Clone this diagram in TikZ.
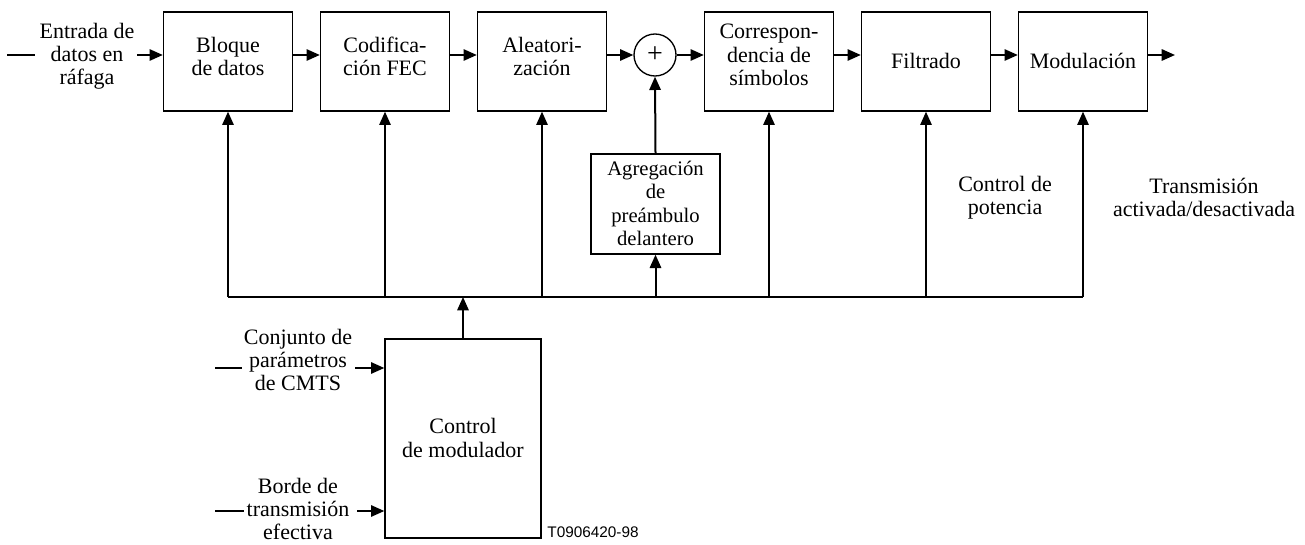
\documentclass[tikz,border=0pt]{standalone}
\usepackage{fontspec}
\setmainfont{Liberation Serif}
\newfontfamily\codefont{Liberation Sans}
\usetikzlibrary{arrows.meta}

\tikzset{
  blk/.style={draw, line width=1pt, inner sep=0pt,
              minimum width=96.75pt, minimum height=74.25pt},
  lbl/.style={align=center, inner sep=0pt, font=\fontsize{16.5}{17.4}\selectfont},
  smalllbl/.style={align=center, inner sep=0pt, font=\fontsize{15.5}{17.4}\selectfont},
  wire/.style={line width=1.5pt},
  arr/.style={line width=1.5pt, -{Triangle[length=10pt,width=8.5pt]}},
}

\begin{document}
\begin{tikzpicture}[x=0.75pt, y=-0.75pt]
\useasboundingbox (0,0) rectangle (1305,545);

% signal path and control bus levels
\coordinate (sig) at (0,55);
\coordinate (bus) at (0,297);

% main chain
\node[blk] (bloque) at (228,61.5) {};
\node[blk] (codif)  at (385,61.5) {};
\node[blk] (aleat)  at (542,61.5) {};
\node[draw, circle, line width=1pt, minimum size=31.5pt, inner sep=0pt] (sum) at (655,55) {};
\node[blk] (corr)   at (769,61.5) {};
\node[blk] (filt)   at (926,61.5) {};
\node[blk] (modul)  at (1083,61.5) {};

\node[lbl] (tbloque) at (228,56.5) {Bloque\\de datos};
\node[lbl] (tcodif)  at (385,56.5) {Codifica-\\ción FEC};
\node[lbl] (taleat)  at (542,56.5) {Aleatori-\\zación};
\node[inner sep=0pt, font=\fontsize{21}{21}\selectfont] (tsum) at (655,55) {+};
\node[lbl] (tcorr)   at (769,55) {Correspon-\\dencia de\\símbolos};
\node[lbl] (tfilt)   at (926,61) {Filtrado};
\node[lbl] (tmodul)  at (1083,61) {Modulación};

% preamble and modulator control blocks
\node[draw, line width=1pt, inner sep=0pt, minimum width=96.75pt, minimum height=75pt] (agreg) at (655.5,204) {};
\node[smalllbl] (tagreg) at (655.5,203.5) {Agregación\\de\\preámbulo\\delantero};
\node[draw, line width=1pt, inner sep=0pt, minimum width=117pt, minimum height=149.25pt] (ctrl) at (463,438.5) {};
\node[lbl] (tctrl) at (463,438) {Control\\de modulador};

% outside labels
\node[lbl] (tin)   at (87,56.5)   {Entrada de\\datos en\\ráfaga};
\node[lbl] (tcmts) at (298,360)   {Conjunto de\\parámetros\\de CMTS};
\node[lbl] (tedge) at (298,509)   {Borde de\\transmisión\\efectiva};
\node[lbl] (tpow)  at (1005,197.5) {Control de\\potencia};
\node[lbl] (ttx)   at (1204,197.5) {Transmisión\\activada/desactivada};
\node[inner sep=0pt, font=\codefont\fontsize{11.5}{12}\selectfont] (tref) at (593,532) {T0906420-98};

% free ends of the external lines
\coordinate (inA) at (7,55);
\coordinate (inB) at (35,55);
\coordinate (inC) at (137,55);
\coordinate (out) at (1175,55);
\coordinate (cA) at (215,368);
\coordinate (cB) at (242,368);
\coordinate (cC) at (355,368);
\coordinate (eA) at (215,511);
\coordinate (eB) at (244,511);
\coordinate (eC) at (357,511);

% data path
\draw[wire] (inA) -- (inB);
\draw[arr] (inC) -- (bloque.west |- sig);
\draw[arr] (bloque.east |- sig) -- (codif.west |- sig);
\draw[arr] (codif.east |- sig) -- (aleat.west |- sig);
\draw[arr] (aleat.east |- sig) -- (sum.west);
\draw[arr] (sum.east) -- (corr.west |- sig);
\draw[arr] (corr.east |- sig) -- (filt.west |- sig);
\draw[arr] (filt.east |- sig) -- (modul.west |- sig);
\draw[arr] (modul.east |- sig) -- (out);

% control bus
\draw[wire] (bloque.south |- bus) -- (modul.south |- bus);
\draw[arr] (bloque.south |- bus) -- (bloque.south);
\draw[arr] (codif.south |- bus) -- (codif.south);
\draw[arr] (aleat.south |- bus) -- (aleat.south);
\draw[arr] (agreg.south |- bus) -- (agreg.south);
\draw[arr] (agreg.north) -- (sum.south);
\draw[arr] (corr.south |- bus) -- (corr.south);
\draw[arr] (filt.south |- bus) -- (filt.south);
\draw[arr] (modul.south |- bus) -- (modul.south);
\draw[arr] (ctrl.north) -- (ctrl.north |- bus);

% modulator control inputs
\draw[wire] (cA) -- (cB);
\draw[arr] (cC) -- (ctrl.west |- cC);
\draw[wire] (eA) -- (eB);
\draw[arr] (eC) -- (ctrl.west |- eC);
\end{tikzpicture}
\end{document}
